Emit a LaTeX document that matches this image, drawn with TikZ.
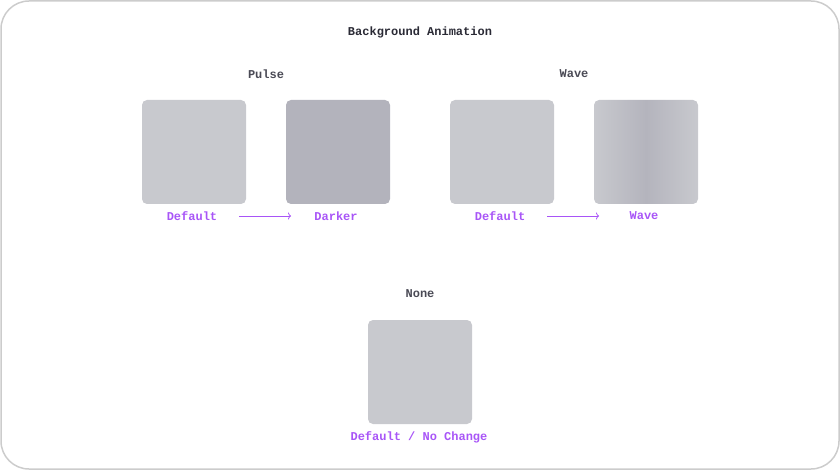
\documentclass[tikz,border=0pt]{standalone}
\usepackage{fontspec}
\setmonofont{Liberation Mono}
\usetikzlibrary{arrows.meta}
\newcommand{\cour}{\ttfamily\bfseries\fontsize{12}{14}\selectfont}
\definecolor{boxdef}{HTML}{C8C9CE}
\definecolor{boxdark}{HTML}{B3B3BC}
\definecolor{wavemid}{HTML}{B4B4BD}
\definecolor{lbl}{HTML}{A855F7}
\definecolor{ttl}{HTML}{2A2A35}
\definecolor{grp}{HTML}{4A4A55}
\definecolor{frame}{HTML}{CCCCCC}
\begin{document}
\begin{tikzpicture}[x=1pt,y=-1pt,
  swatch/.style={minimum width=104pt,minimum height=104pt,rounded corners=5pt,inner sep=0pt,draw=none},
  lab/.style={font=\cour,text=lbl,inner sep=1pt},
  grouptitle/.style={font=\cour,text=grp},
  arr/.style={draw=lbl,line width=0.8pt,-{To[length=3pt,width=7pt]}}]
\useasboundingbox (0,0) rectangle (840,470);
\draw[frame,line width=1.5pt,rounded corners=28pt] (1,1) rectangle (839,469);
\node[font=\cour,text=ttl] (title) at (420,32) {Background Animation};
% Pulse
\node[grouptitle] (pulse) at (266,74) {Pulse};
\node[swatch,fill=boxdef] (p1) at (194,152) {};
\node[swatch,fill=boxdark] (p2) at (338,152) {};
\node[lab] (p1l) at (192,216) {Default};
\node[lab] (p2l) at (336,216) {Darker};
\coordinate (pa1) at (239,216);
\coordinate (pa2) at (291,216);
\draw[arr] (pa1) -- (pa2);
% Wave
\node[grouptitle] (wave) at (574,74) {Wave};
\node[swatch,fill=boxdef] (w1) at (502,152) {};
\node[swatch,left color=boxdef,right color=boxdef,middle color=wavemid] (w2) at (646,152) {};
\node[lab] (w1l) at (500,216) {Default};
\node[lab] (w2l) at (644,216) {Wave};
\coordinate (wa1) at (547,216);
\coordinate (wa2) at (599,216);
\draw[arr] (wa1) -- (wa2);
% None
\node[grouptitle] (none) at (420,294) {None};
\node[swatch,fill=boxdef] (n1) at (420,372) {};
\node[lab] (n1l) at (419,437) {Default / No Change};
\end{tikzpicture}
\end{document}
